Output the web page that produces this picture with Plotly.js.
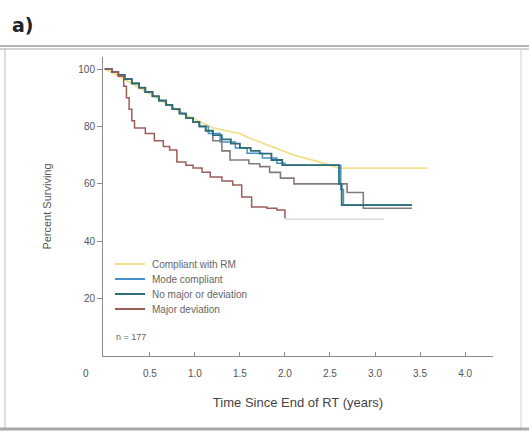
<!DOCTYPE html>
<html>
<head>
<meta charset="utf-8">
<script src="https://cdn.plot.ly/plotly-3.0.1.min.js"></script>
<style>
  html, body { margin: 0; padding: 0; background: #fff; }
  #chart { width: 529px; height: 433px; }
</style>
</head>
<body>
<div id="chart"></div>
<script>
// ---- data ----
const seriesNames = ["Compliant with RM", "Mode compliant", "No major or deviation", "Major deviation"];

const yellowT = [0, 0.3, 0.6, 0.9, 1.2, 1.5, 1.6, 1.8, 2.1, 2.4, 2.6, 3.58];
const yellowS = [100, 95, 89.5, 84, 79.5, 77.5, 76, 73.5, 70, 67.5, 65.5, 65.5];

const blueT = [0, 0.08, 0.15, 0.22, 0.3, 0.38, 0.45, 0.53, 0.6, 0.68, 0.75, 0.83, 0.9, 0.98, 1.05, 1.15, 1.28, 1.45, 1.58, 1.75, 1.91, 2.0, 2.58, 2.62, 2.65, 3.41];
const blueS = [100, 99, 98, 96.5, 95, 93.5, 92, 90.5, 89, 87.5, 86, 84.5, 83, 81.5, 80, 77.5, 74.6, 72.5, 70.7, 69, 67.2, 66.5, 66.5, 58, 52.6, 52.6];

const tealT = [0, 0.08, 0.15, 0.22, 0.3, 0.38, 0.45, 0.53, 0.6, 0.68, 0.75, 0.83, 0.9, 0.98, 1.05, 1.12, 1.2, 1.3, 1.4, 1.5, 1.62, 1.72, 1.85, 1.97, 2.58, 2.6, 2.63, 3.41];
const tealS = [100, 99, 98, 96.5, 95, 93.5, 92, 90.5, 89, 87.5, 86, 84.5, 83, 81.5, 80, 78.5, 77, 75.5, 74, 72.5, 71.5, 70.5, 68.3, 66.5, 66.5, 60, 52.6, 52.6];

const grayT = [0, 0.08, 0.15, 0.22, 0.3, 0.38, 0.45, 0.53, 0.6, 0.68, 0.75, 0.83, 0.9, 0.98, 1.05, 1.12, 1.2, 1.3, 1.39, 1.6, 1.72, 1.83, 1.95, 2.1, 2.69, 2.87, 3.41];
const grayS = [100, 99, 98, 96.5, 95, 93.5, 92, 90.5, 89, 87.5, 86, 84.5, 83, 81.5, 80, 78.5, 75, 71.5, 68.3, 67, 66, 64, 62, 60, 57, 51.5, 51.5];

const redT = [0, 0.08, 0.15, 0.21, 0.24, 0.27, 0.3, 0.33, 0.45, 0.55, 0.65, 0.72, 0.8, 0.9, 0.98, 1.08, 1.17, 1.3, 1.42, 1.52, 1.63, 1.8, 1.91, 2.0];
const redS = [100, 99, 97.5, 94, 90, 86, 82, 79.5, 77.5, 75, 73, 71.8, 67.6, 66.5, 65.5, 64, 62.4, 61, 59.6, 55.4, 51.9, 51.5, 50.9, 48];

const redTailT = [2.0, 3.1];
const redTailS = [47.7, 47.7];

const xTickVals = [0.5, 1.0, 1.5, 2.0, 2.5, 3.0, 3.5, 4.0];
const xTickText = ["0.5", "1.0", "1.5", "2.0", "2.5", "3.0", "3.5", "4.0"];
const yTickVals = [20, 40, 60, 80, 100];
const sampleSize = "n = 177";

// ---- chart ----
const font = "Liberation Sans Narrow, Arial Narrow, Liberation Sans, Arial, sans-serif";
const colors = ["#efe08e", "#4a90c8", "#2f6e76", "#9c5d5b"];

const traces = [
  {x: redTailT, y: redTailS, mode: "lines", line: {color: "#d9d9d9", width: 1.5}, hoverinfo: "skip"},
  {x: yellowT, y: yellowS, name: seriesNames[0], mode: "lines", line: {color: colors[0], width: 1.8}},
  {x: blueT, y: blueS, name: seriesNames[1], mode: "lines", line: {color: colors[1], width: 1.5, shape: "hv"}},
  {x: grayT, y: grayS, name: "", mode: "lines", line: {color: "#857a7a", width: 1.6, shape: "hv"}},
  {x: tealT, y: tealS, name: seriesNames[2], mode: "lines", line: {color: colors[2], width: 1.8, shape: "hv"}},
  {x: redT, y: redS, name: seriesNames[3], mode: "lines", line: {color: colors[3], width: 1.5, shape: "hv"}}
];

// plot area in pixels: left 103, right 493, top 57, bottom 356
const L = 103, R = 493, T = 57, B = 356;
const px = v => (v - L) / (R - L);
const py = v => (B - v) / (B - T);

// hand-drawn legend (compact spacing as in the reference)
const legendRowsY = [264, 279, 294, 309];
const legendShapes = seriesNames.map((n, i) => ({
  type: "line", xref: "paper", yref: "paper",
  x0: px(115), x1: px(145), y0: py(legendRowsY[i]), y1: py(legendRowsY[i]),
  line: {color: colors[i], width: 2}
}));
const legendTexts = seriesNames.map((n, i) => ({
  text: n, xref: "paper", yref: "paper", x: px(150), y: py(legendRowsY[i]),
  xanchor: "left", yanchor: "middle", showarrow: false,
  font: {size: 10, color: "#666", family: font}
}));

const layout = {
  width: 529, height: 433,
  margin: {l: L, r: 529 - R, t: T, b: 433 - B, pad: 0},
  paper_bgcolor: "#ffffff", plot_bgcolor: "#ffffff",
  font: {family: font, color: "#555", size: 10},
  showlegend: false,
  xaxis: {
    range: [-0.02, 4.31], tickvals: xTickVals, ticktext: xTickText,
    showgrid: false, zeroline: false, showline: true, linecolor: "#8a8a8a", linewidth: 1,
    ticks: "inside", ticklen: 4, tickcolor: "#8a8a8a", ticklabelstandoff: 8,
    tickfont: {size: 10, color: "#555"},
    title: {text: "Time Since End of RT (years)", font: {size: 13, color: "#444", family: font}, standoff: 19}
  },
  yaxis: {
    range: [0, 104.2], tickvals: yTickVals,
    showgrid: false, zeroline: false, showline: true, linecolor: "#8a8a8a", linewidth: 1,
    ticks: "outside", ticklen: 5, tickcolor: "#8a8a8a",
    tickfont: {size: 10, color: "#555"},
    title: {text: "Percent Surviving", font: {size: 11, color: "#555", family: font}, standoff: 24}
  },
  annotations: [
    {text: "<b>a)</b>", xref: "paper", yref: "paper", x: px(10), y: py(25), xanchor: "left", yanchor: "middle",
     showarrow: false, font: {size: 19, color: "#222", family: "DejaVu Sans, sans-serif"}},
    {text: sampleSize, xref: "paper", yref: "paper", x: px(114), y: py(337), xanchor: "left", yanchor: "middle",
     showarrow: false, font: {size: 9, color: "#666", family: font}},
    {text: "0", xref: "paper", yref: "paper", x: px(86), y: py(373), xanchor: "center", yanchor: "middle",
     showarrow: false, font: {size: 10, color: "#555", family: font}}
  ].concat(legendTexts),
  shapes: [
    {type: "line", xref: "paper", yref: "paper", x0: px(0), x1: px(529), y0: py(46), y1: py(46), line: {color: "#9a9a9a", width: 1.5}},
    {type: "line", xref: "paper", yref: "paper", x0: px(0), x1: px(529), y0: py(49), y1: py(49), line: {color: "#c4c4c4", width: 1.5}},
    {type: "line", xref: "paper", yref: "paper", x0: px(5), x1: px(5), y0: py(48), y1: py(428), line: {color: "#bdbdbd", width: 1}},
    {type: "line", xref: "paper", yref: "paper", x0: px(521), x1: px(521), y0: py(48), y1: py(428), line: {color: "#d0d0d0", width: 1}},
    {type: "line", xref: "paper", yref: "paper", x0: px(0), x1: px(529), y0: py(429), y1: py(429), line: {color: "#a8a8a8", width: 3}}
  ].concat(legendShapes)
};

Plotly.newPlot("chart", traces, layout, {staticPlot: true, displayModeBar: false});
</script>
</body>
</html>
